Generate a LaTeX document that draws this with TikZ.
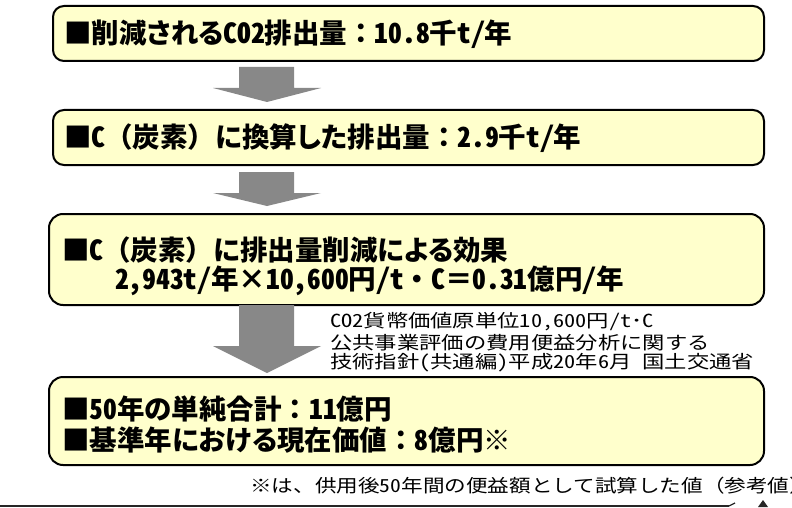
\documentclass[tikz,border=0pt]{standalone}
\usepackage{fontspec}
\setmainfont{Noto Sans CJK JP}
\newfontfamily\headfont{Noto Sans CJK JP}
\newfontfamily\hwfont[RawFeature=+hwid]{Noto Sans CJK JP}
\newfontfamily\pkfont[RawFeature=+palt]{Noto Sans CJK JP}
\newfontfamily\notefont[FakeStretch=1.24, RawFeature=+hwid]{Noto Sans CJK JP}
\newfontfamily\footfont[FakeStretch=1.2]{Noto Sans CJK JP}
\newfontfamily\foothw[FakeStretch=1.2, RawFeature=+hwid]{Noto Sans CJK JP}
\newcommand{\hw}[1]{{\hwfont #1}}
\newcommand{\pk}[1]{{\pkfont #1}}
\definecolor{boxfill}{HTML}{FFFFCC}
\definecolor{arrowgray}{HTML}{888888}
\tikzset{
  panel/.style={draw=black, line width=2pt, fill=boxfill, rounded corners=11pt, anchor=north west, inner sep=0pt},
  headtext/.style={anchor=west, inner sep=0pt, font=\headfont\fontsize{27.5}{29}\selectfont\bfseries},
  notetext/.style={anchor=west, inner sep=0pt, font=\notefont\fontsize{18}{20}\selectfont},
  foottext/.style={anchor=west, inner sep=0pt, font=\footfont\fontsize{18}{20}\selectfont},
  blockarrow/.style={fill=arrowgray, draw=none}
}
\newcommand{\downarrowshape}[4]{% name, top, headbase, tip
  \coordinate (#1top) at (267,#2);
  \coordinate (#1tip) at (267,#4);
  \fill[blockarrow] (239,#2) -- (294,#2) -- (294,#3) -- (321,#3) -- (#1tip) -- (213,#3) -- (239,#3) -- cycle;
}
\begin{document}
\begin{tikzpicture}[x=1pt, y=-1pt]
\useasboundingbox (0,0) rectangle (792,508);
% boxes
\node[panel, minimum width=711pt, minimum height=55pt] (b1) at (52,5) {};
\node[panel, minimum width=711pt, minimum height=55pt] (b2) at (52,109) {};
\node[panel, minimum width=715pt, minimum height=91pt, rounded corners=14pt] (b3) at (48,213) {};
\node[panel, minimum width=715pt, minimum height=88pt, rounded corners=14pt] (b4) at (48,376) {};
% arrows
\downarrowshape{a1}{67}{88}{102}
\downarrowshape{a2}{172}{193}{206}
\downarrowshape{a3}{305}{346}{373}
% texts
\node[headtext] (t1) at (64,34) {■削減\pk{される}\hw{CO2}排出量：\hw{10.8}千\hw{t/}年};
\node[headtext] (t2) at (64,138) {■\hw{C}（炭素）\pk{に}換算\pk{した}排出量：\hw{2.9}千\hw{t/}年};
\node[headtext] (t3a) at (62,250) {■\hw{C}（炭素）\pk{に}排出量削減\pk{による}効果};
\node[headtext] (t3b) at (115,281) {\hw{2,943t/}年×\hw{10,600}円\hw{/t}・\hw{C}＝\hw{0.31}億円\hw{/}年};
\node[headtext] (t4a) at (62,409) {■\hw{50}年\pk{の}単純合計：\hw{11}億円};
\node[headtext] (t4b) at (62,440) {■基準年\pk{における}現在価値：\hw{8}億円※};
% notes
\node[notetext] (n1) at (330,322) {CO2貨幣価値原単位10,600円/t･C};
\node[notetext] (n2) at (330,343) {公共事業評価の費用便益分析に関する};
\node[notetext] (n3) at (330,363) {技術指針(共通編)平成20年6月 国土交通省};
\node[foottext] (fn) at (250,486) {※は、供用後{\foothw 50}年間の便益額として試算した値（参考値）};
% bottom rule
\coordinate (r0) at (0,506);
\coordinate (r1) at (729,506);
\draw[line width=2pt, color=black!85] (r0) -- (r1);
\draw[line width=1.2pt, color=black!85] (729,506) -- (735,503);
\fill[black!85] (758,507) -- (763,500) -- (768,507) -- cycle;
\end{tikzpicture}
\end{document}
